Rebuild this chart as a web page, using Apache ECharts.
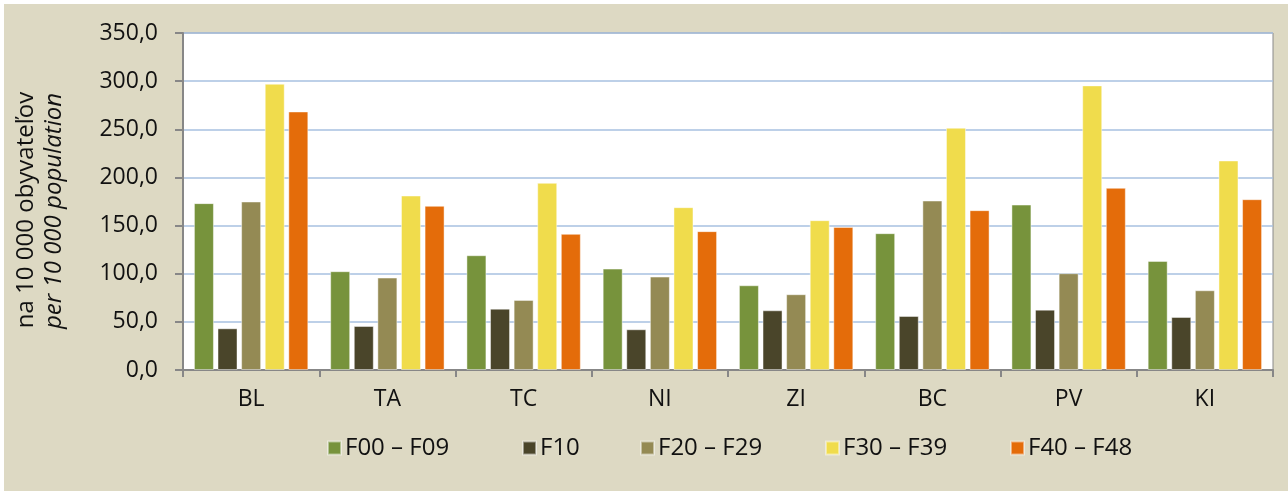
<!DOCTYPE html>
<html>
<head>
<meta charset="utf-8">
<script src="https://cdn.jsdelivr.net/npm/echarts@6/dist/echarts.min.js"></script>
<style>
html,body{margin:0;padding:0;background:#ffffff;}
#wrap{position:absolute;left:4px;top:4px;width:1284px;height:487px;background:#DDD9C3;}
#chart{position:absolute;left:-4px;top:-4px;width:1288px;height:491px;}
</style>
</head>
<body>
<div id="wrap"><div id="chart"></div></div>
<script>
var categories = ['BL','TA','TC','NI','ZI','BC','PV','KI'];
var seriesNames = ['F00 – F09','F10','F20 – F29','F30 – F39','F40 – F48'];
var f00_f09 = [173.3, 102.6, 119.2, 105.3, 88.0, 142.1, 171.8, 113.3];
var f10     = [43.3, 45.7, 63.7, 42.3, 62.0, 56.1, 62.7, 55.1];
var f20_f29 = [175.0, 96.0, 72.8, 97.0, 78.7, 176.0, 100.5, 82.8];
var f30_f39 = [297.3, 181.2, 194.4, 169.1, 155.6, 251.6, 295.6, 217.6];
var f40_f48 = [268.5, 170.5, 141.4, 144.2, 148.6, 166.0, 189.2, 177.4];
var yTicks = [0, 50, 100, 150, 200, 250, 300, 350];
var yTitle1 = 'na 10 000 obyvateľov';
var yTitle2 = 'per 10 000 population';

var colors = ['#77933C','#4A452A','#948A54','#F0DC4C','#E46C0A'];
var allData = [f00_f09, f10, f20_f29, f30_f39, f40_f48];
var legendLeft = [327, 522, 640, 825, 1010];
var FONT = '"Open Sans", "DejaVu Sans", sans-serif';

var chart = echarts.init(document.getElementById('chart'), null, {renderer:'canvas'});

var series = seriesNames.map(function(n, i){
  return {
    name: n,
    type: 'bar',
    data: allData[i],
    barWidth: 20,
    barGap: '18%',
    itemStyle: {color: colors[i], borderColor: 'rgba(255,255,255,0.45)', borderWidth: 1},
    emphasis: {disabled: true}
  };
});

var legends = seriesNames.map(function(n, i){
  return {
    data: [n],
    left: legendLeft[i],
    top: 436,
    padding: 0,
    itemWidth: 13,
    itemHeight: 13,
    itemGap: 0,
    icon: 'rect',
    textStyle: {fontFamily: FONT, fontSize: 24, color: '#111', padding: [0,0,0,-1]},
    selectedMode: false
  };
});

chart.setOption({
  backgroundColor: 'transparent',
  animation: false,
  color: colors,
  legend: legends,
  graphic: [
    {type: 'text', x: 26, y: 210, rotation: Math.PI/2,
     style: {text: yTitle1, fontFamily: FONT, fontSize: 24, fill: '#111', align: 'center', verticalAlign: 'middle'}},
    {type: 'text', x: 54, y: 211, rotation: Math.PI/2,
     style: {text: yTitle2, fontFamily: FONT, fontSize: 24, fontStyle: 'italic', fill: '#111', align: 'center', verticalAlign: 'middle'}}
  ],
  grid: {
    left: 183, right: 15, top: 33, bottom: 121,
    containLabel: false,
    outerBoundsMode: 'none',
    show: true, backgroundColor: '#ffffff', borderColor: '#8a8a8a', borderWidth: 1
  },
  xAxis: {
    type: 'category',
    data: categories,
    axisLine: {lineStyle: {color: '#878787', width: 2}},
    axisTick: {show: true, length: 7, lineStyle: {color: '#878787', width: 2}},
    axisLabel: {fontFamily: FONT, fontSize: 23, color: '#111', margin: 18}
  },
  yAxis: {
    type: 'value',
    min: yTicks[0],
    max: yTicks[yTicks.length-1],
    interval: 50,
    axisLine: {show: true, lineStyle: {color: '#878787', width: 2}},
    axisTick: {show: true, length: 8, lineStyle: {color: '#878787', width: 2}},
    splitLine: {show: true, lineStyle: {color: '#A7C0E1', width: 1.5}},
    axisLabel: {
      fontFamily: FONT, fontSize: 23, color: '#111', margin: 25,
      formatter: function(v){ return v.toFixed(1).replace('.', ','); }
    }
  },
  series: series
});
</script>
</body>
</html>
